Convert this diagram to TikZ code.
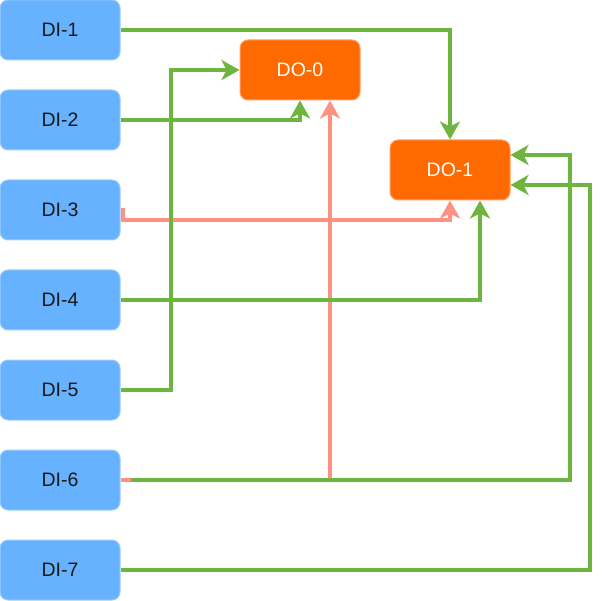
\documentclass[tikz,border=0pt]{standalone}
\usepackage{fontspec}
\setmainfont{Liberation Sans}
\usetikzlibrary{arrows.meta}
\definecolor{inblue}{RGB}{102,178,255}
\definecolor{inedge}{RGB}{160,205,255}
\definecolor{outorange}{RGB}{255,106,0}
\definecolor{outedge}{RGB}{255,160,100}
\definecolor{wiregreen}{RGB}{109,181,62}
\definecolor{wirepink}{RGB}{255,145,130}
\begin{document}
\begin{tikzpicture}[x=1pt,y=-1pt,
  every node/.style={rounded corners=8pt,minimum width=120pt,minimum height=60pt,
    inner sep=0pt,font=\fontsize{19.5}{22}\selectfont},
  din/.style={fill=inblue,draw=inedge,line width=1pt,text=black!90},
  dout/.style={fill=outorange,draw=outedge,line width=1pt,text=white},
  wire/.style={line width=4pt,-{Stealth[length=18pt,width=20pt,inset=5pt]}},
  on/.style={wire,draw=wiregreen},
  off/.style={wire,draw=wirepink}]
\useasboundingbox (0,0) rectangle (602,601);
% inputs
\node[din] (di1) at (60,30) {DI-1};
\node[din] (di2) at (60,120) {DI-2};
\node[din] (di3) at (60,210) {DI-3};
\node[din] (di4) at (60,300) {DI-4};
\node[din] (di5) at (60,390) {DI-5};
\node[din] (di6) at (60,480) {DI-6};
\node[din] (di7) at (60,570) {DI-7};
% outputs
\node[dout] (do0) at (300,70) {DO-0};
\node[dout] (do1) at (450,170) {DO-1};
% pink wires
\draw[off] (di3.east) -- ++(2,0) -- ++(0,10) -| (do1.south);
\draw[off] (di6.east) -| ([xshift=30pt]do0.south);
% green wires
\draw[on] (di1.east) -| (do1.north);
\draw[on] (di2.east) -| (do0.south);
\draw[on] (di4.east) -| ([xshift=30pt]do1.south);
\draw[on] (di5.east) -- ++(50,0) |- (do0.west);
\draw[on] ([xshift=10pt]di6.east) -- (570,480) |- ([yshift=15pt]do1.east);
\draw[on] (di7.east) -- (590,570) |- ([yshift=-15pt]do1.east);
\end{tikzpicture}
\end{document}
